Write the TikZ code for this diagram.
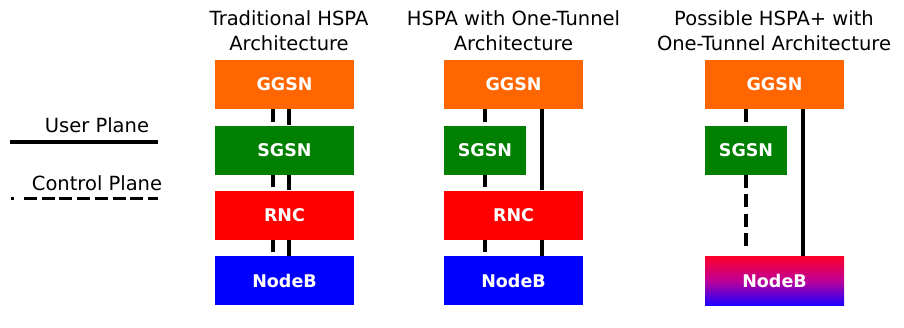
\documentclass[tikz,border=0pt]{standalone}
\usepackage{fontspec}
\setmainfont{DejaVu Sans}
\definecolor{ggsnorange}{RGB}{255,102,0}
\definecolor{sgsngreen}{RGB}{0,128,0}
\definecolor{rncred}{RGB}{255,0,0}
\definecolor{nodebblue}{RGB}{0,0,255}
\definecolor{mixtop}{RGB}{255,0,40}
\definecolor{mixmid}{RGB}{190,0,150}
\definecolor{mixbot}{RGB}{30,0,255}
\tikzset{
  netbox/.style={rectangle, inner sep=0pt, minimum width=139pt, minimum height=49pt,
    text=white, font=\fontsize{17.5}{20}\selectfont\bfseries},
  narrowbox/.style={netbox, minimum width=82pt},
  heading/.style={align=center, inner sep=0pt, anchor=base, font=\fontsize{19.5}{25}\selectfont},
  legendtext/.style={inner sep=0pt, anchor=base, font=\fontsize{19.5}{25}\selectfont},
  userplane/.style={line width=4pt},
  ctrlplane/.style={line width=4pt, dash pattern=on 12.5pt off 7pt},
}
\begin{document}
\begin{tikzpicture}[x=1pt, y=-1pt]
\useasboundingbox (0,0) rectangle (904,327);

% legend
\coordinate (u1) at (10,142);
\coordinate (u2) at (158,142);
\coordinate (c0) at (11,198);
\coordinate (c1) at (13.5,198);
\coordinate (c2) at (24,198);
\coordinate (c3) at (158,198);
\node[legendtext] (lu) at (97,132) {User Plane};
\node[legendtext] (lc) at (97,190) {Control Plane};
\draw[userplane] (u1) -- (u2);
\draw[line width=3pt] (c0) -- (c1);
\draw[line width=3pt, dash pattern=on 13pt off 4.7pt] (c2) -- (c3);

% traditional HSPA (the base anchor sits on the last line)
\node[heading] (t1) at (289,50) {Traditional HSPA\\Architecture};
\node[netbox, fill=ggsnorange] (g1) at (284.5,84.5) {GGSN};
\node[netbox, fill=sgsngreen]  (s1) at (284.5,150) {SGSN};
\node[netbox, fill=rncred]     (r1) at (284.5,215) {RNC};
\node[netbox, fill=nodebblue]  (n1) at (284.5,280.5) {NodeB};
\foreach \a/\b in {g1/s1, s1/r1, r1/n1}{
  \draw[userplane] ([xshift=4.5pt]\a.south) -- ([xshift=4.5pt]\b.north);
  \draw[ctrlplane] ([xshift=-11.5pt]\a.south) -- ([xshift=-11.5pt]\b.north);
}

% HSPA with one tunnel
\node[heading] (t2) at (513.5,50) {HSPA with One-Tunnel\\Architecture};
\node[netbox, fill=ggsnorange]   (g2) at (513.5,84.5) {GGSN};
\node[narrowbox, fill=sgsngreen] (s2) at (485,150) {SGSN};
\node[netbox, fill=rncred]       (r2) at (513.5,215) {RNC};
\node[netbox, fill=nodebblue]    (n2) at (513.5,280.5) {NodeB};
\draw[ctrlplane] (g2.south -| s2.south) -- (s2.north);
\draw[ctrlplane] (s2.south) -- (r2.north -| s2.south);
\draw[ctrlplane] (r2.south -| s2.south) -- (n2.north -| s2.south);
\draw[userplane] ([xshift=28.5pt]g2.south) -- ([xshift=28.5pt]r2.north);
\draw[userplane] ([xshift=28.5pt]r2.south) -- ([xshift=28.5pt]n2.north);

% possible HSPA+ with one tunnel
\node[heading] (t3) at (774,50) {Possible HSPA+ with\\One-Tunnel Architecture};
\node[netbox, fill=ggsnorange]   (g3) at (774.5,84.5) {GGSN};
\node[narrowbox, fill=sgsngreen] (s3) at (746,150) {SGSN};
\node[netbox, top color=mixtop, bottom color=mixbot, middle color=mixmid] (n3) at (774.5,280.5) {NodeB};
\draw[ctrlplane] (g3.south -| s3.south) -- (s3.north);
\draw[ctrlplane, dash pattern=on 13pt off 6.5pt, shorten >=7pt] (s3.south) -- (n3.north -| s3.south);
\draw[userplane] ([xshift=28.5pt]g3.south) -- ([xshift=28.5pt]n3.north);
\end{tikzpicture}
\end{document}
